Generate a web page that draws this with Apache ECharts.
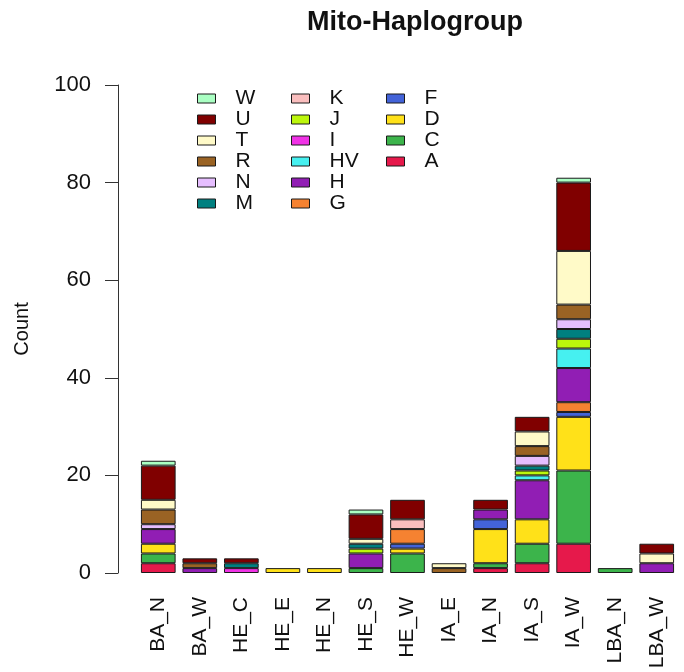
<!DOCTYPE html>
<html>
<head>
<meta charset="utf-8">
<script src="https://cdn.jsdelivr.net/npm/echarts@6/dist/echarts.min.js"></script>
<style>html,body{margin:0;padding:0;background:#fff}#c{width:684px;height:672px}</style>
</head>
<body>
<div id="c"></div>
<script>
var categories = ['BA_N','BA_W','HE_C','HE_E','HE_N','HE_S','HE_W','IA_E','IA_N','IA_S','IA_W','LBA_N','LBA_W'];
var groups = ['A','C','D','F','G','H','HV','I','J','K','M','N','R','T','U','W'];
var A  = [2,0,0,0,0,0,0,0,1,2,6,0,0];
var C  = [2,0,0,0,0,1,4,0,1,4,15,1,0];
var D  = [2,0,0,1,1,0,1,0,7,5,11,0,0];
var F  = [0,0,0,0,0,0,1,0,2,0,1,0,0];
var G  = [0,0,0,0,0,0,3,0,0,0,2,0,0];
var H  = [3,1,0,0,0,3,0,0,2,8,7,0,2];
var HV = [0,0,0,0,0,0,0,0,0,1,4,0,0];
var I  = [0,0,1,0,0,0,0,0,0,0,0,0,0];
var J  = [0,0,0,0,0,1,0,0,0,1,2,0,0];
var K  = [0,0,0,0,0,0,2,0,0,0,0,0,0];
var M  = [0,0,1,0,0,1,0,0,0,1,2,0,0];
var N  = [1,0,0,0,0,0,0,0,0,2,2,0,0];
var R  = [3,1,0,0,0,0,0,1,0,2,3,0,0];
var T  = [2,0,0,0,0,1,0,1,0,3,11,0,2];
var U  = [7,1,1,0,0,5,4,0,2,3,14,0,2];
var W  = [1,0,0,0,0,1,0,0,0,0,1,0,0];
var yTicks = [0,20,40,60,80,100];

var values = {A:A,C:C,D:D,F:F,G:G,H:H,HV:HV,I:I,J:J,K:K,M:M,N:N,R:R,T:T,U:U,W:W};
var colors = {A:'#e6194b',C:'#3cb44b',D:'#ffe119',F:'#4363d8',G:'#f58231',H:'#911eb4',HV:'#46f0f0',
  I:'#f032e6',J:'#bcf60c',K:'#fabebe',M:'#008080',N:'#e6beff',R:'#9a6324',T:'#fffac8',U:'#800000',W:'#aaffc3'};

var FONT = '"Liberation Sans", Arial, sans-serif';
var series = groups.map(function(g){
  return {
    name: g, type: 'bar', stack: 'all',
    barCategoryGap: '16.5%',
    itemStyle: {color: colors[g], borderColor: '#1a1a1a', borderWidth: 1},
    emphasis: {disabled: true},
    data: values[g].map(function(v){ return v === 0 ? '-' : v; })
  };
});

function legendCol(items, left){
  return {
    orient: 'vertical', left: left, top: 83,
    data: items, itemWidth: 18, itemHeight: 9, itemGap: 0,
    icon: 'rect', selectedMode: false,
    textStyle: {fontFamily: FONT, fontSize: 21, color: '#111', lineHeight: 18.4, padding: [0,0,0,15]},
    itemStyle: {borderColor: '#1a1a1a', borderWidth: 1}
  };
}

var chart = echarts.init(document.getElementById('c'), null, {renderer: 'canvas'});
chart.setOption({
  animation: false,
  backgroundColor: '#fff',
  title: {text: 'Mito-Haplogroup', left: 410, top: 4, textAlign: 'center',
    textStyle: {fontFamily: FONT, fontSize: 27, fontWeight: 'bold', color: '#111'}},
  legend: [
    legendCol(['W','U','T','R','N','M'], 192),
    legendCol(['K','J','I','HV','H','G'], 286),
    legendCol(['F','D','C','A'], 381)
  ],
  grid: {left: 137.5, right: 6.5, top: 85, bottom: 99, containLabel: false},
  xAxis: {
    type: 'category', data: categories,
    axisLine: {show: false}, axisTick: {show: false},
    axisLabel: {rotate: 90, margin: 24, fontFamily: FONT, fontSize: 21, color: '#111', interval: 0}
  },
  yAxis: {
    type: 'value', min: 0, max: 100, interval: 20, offset: 19.5,
    name: 'Count', nameLocation: 'middle', nameGap: 86, nameRotate: 90,
    nameTextStyle: {fontFamily: FONT, fontSize: 20, color: '#111'},
    axisLine: {show: true, lineStyle: {color: '#333', width: 1}},
    axisTick: {show: true, length: 13, lineStyle: {color: '#333'}},
    axisLabel: {margin: 27, fontFamily: FONT, fontSize: 22, color: '#111',
      formatter: function(v){ return yTicks.indexOf(v) >= 0 ? String(v) : ''; }},
    splitLine: {show: false}
  },
  series: series
});
</script>
</body>
</html>
